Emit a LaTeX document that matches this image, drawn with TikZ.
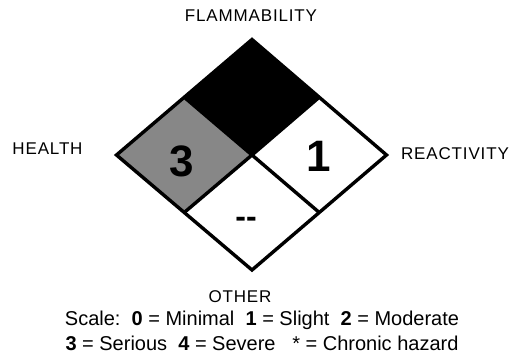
\documentclass[tikz,border=0pt]{standalone}
\usepackage{fontspec}
\usetikzlibrary{calc}
\setmainfont{Liberation Sans}
\newfontfamily\labfont[LetterSpace=5]{Liberation Sans}
\begin{document}
\begin{tikzpicture}[x=1pt,y=-1pt,
  region/.style={draw=black,line width=3.4pt,line join=miter},
  sidelabel/.style={inner sep=0pt,anchor=center,font=\labfont\fontsize{17}{18}\selectfont},
  digit/.style={inner sep=0pt,anchor=center,font=\bfseries\fontsize{44}{44}\selectfont},
  scaletext/.style={inner sep=0pt,anchor=center,font=\fontsize{20}{22}\selectfont}]
\useasboundingbox (0,0) rectangle (513,358);
\coordinate (T) at (252,39.5);
\coordinate (L) at (116.5,155);
\coordinate (R) at (386.5,155);
\coordinate (B) at (252,270);
\coordinate (C) at (252,155);
\coordinate (TL) at ($(T)!0.5!(L)$);
\coordinate (TR) at ($(T)!0.5!(R)$);
\coordinate (BL) at ($(B)!0.5!(L)$);
\coordinate (BR) at ($(B)!0.5!(R)$);
\fill[black] (T) -- (TR) -- (C) -- (TL) -- cycle;
\fill[black!47] (TL) -- (C) -- (BL) -- (L) -- cycle;
\draw[region] (TR) -- (C) -- (BL);
\draw[region] (TL) -- (C) -- (BR);
\draw[region] (T) -- (R) -- (B) -- (L) -- cycle;
\node[digit] (health) at (181.5,161) {3};
\node[digit] (react) at (319,156) {1};
\node[inner sep=0pt,anchor=center,font=\bfseries\fontsize{32}{32}\selectfont] (other) at (246,222) {-{}-};
\node[sidelabel] (lflam) at (251,16) {FLAMMABILITY};
\node[sidelabel] (lhealth) at (47.5,149) {HEALTH};
\node[sidelabel] (lreact) at (455,154) {REACTIVITY};
\node[sidelabel] (lother) at (240,297) {OTHER};
\node[scaletext] (s1) at (262,320) {Scale:\ \ \textbf{0} = Minimal\ \ \textbf{1} = Slight\ \ \textbf{2} = Moderate};
\node[scaletext] (s2) at (262,343) {\textbf{3} = Serious\ \ \textbf{4} = Severe\ \ \ * = Chronic hazard};
\end{tikzpicture}
\end{document}
